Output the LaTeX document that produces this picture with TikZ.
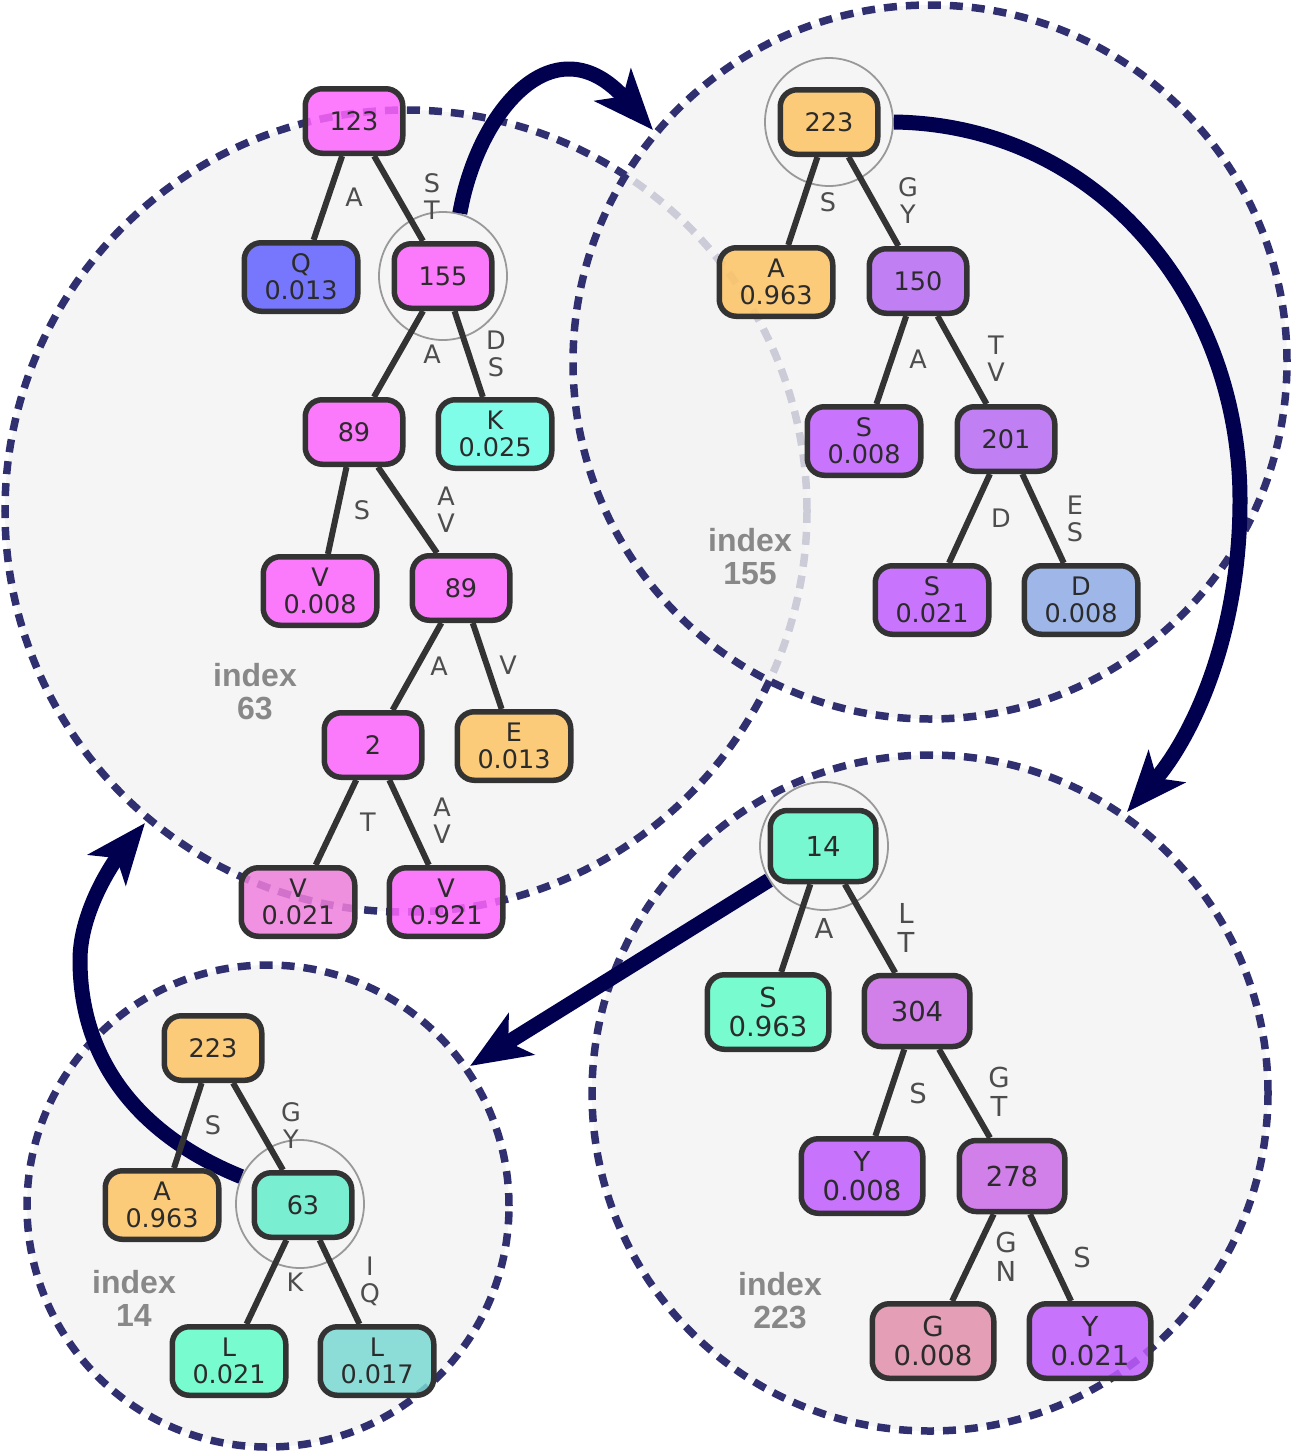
\documentclass[tikz,border=0pt]{standalone}
\usepackage{fontspec}
\setmainfont{DejaVu Sans}
\newfontfamily\idxfamily{Liberation Sans}
\usetikzlibrary{arrows.meta}

% palette
\definecolor{ink}{HTML}{333333}
\definecolor{nodetext}{HTML}{2B2B2B}
\definecolor{labelgray}{HTML}{4D4D4D}
\definecolor{idxgray}{HTML}{888888}
\definecolor{ringgray}{HTML}{999999}
\definecolor{regionblue}{HTML}{303070}
\definecolor{regionfill}{HTML}{F3F3F3}
\definecolor{arrownavy}{HTML}{00004F}
\definecolor{cMag}{HTML}{FD64FD}
\definecolor{cQ}{HTML}{6262FF}
\definecolor{cK}{HTML}{6CFFE6}
\definecolor{cOr}{HTML}{FDC464}
\definecolor{cVlt}{HTML}{EF7EDC}
\definecolor{cPa}{HTML}{B76CF5}
\definecolor{cPb}{HTML}{C05EFF}
\definecolor{cD}{HTML}{91ADE6}
\definecolor{cMint}{HTML}{62F9CA}
\definecolor{cMintb}{HTML}{62FDC8}
\definecolor{cOrch}{HTML}{CA6CE6}
\definecolor{cY}{HTML}{C05CFD}
\definecolor{cPink}{HTML}{E191AD}
\definecolor{cTeal}{HTML}{64EDCA}
\definecolor{cTealb}{HTML}{7AD8D3}

\newcommand{\nodefont}{\fontsize{25.5}{27}\selectfont}
\newcommand{\nodefontL}{\fontsize{27.5}{29}\selectfont}

\begin{document}
\begin{tikzpicture}[x=1pt,y=-1pt,
  region/.style={circle, draw=regionblue, line width=7.5pt,
    dash pattern=on 13pt off 9pt, fill=regionfill, fill opacity=0.8, inner sep=0pt},
  box/.style={draw=ink, line width=5.5pt, rounded corners=17pt,
    fill opacity=0.85, text opacity=1, text=nodetext, align=center,
    inner sep=1pt, font=\nodefont},
  innerbox/.style={box, minimum width=97.5pt, minimum height=64.5pt},
  leafbox/.style={box, minimum width=113.5pt, minimum height=68.5pt},
  innerboxL/.style={box, minimum width=105.5pt, minimum height=71pt, font=\nodefontL},
  leafboxL/.style={box, minimum width=121.5pt, minimum height=74.5pt, font=\nodefontL},
  edge/.style={draw=ink, line width=6pt},
  elabel/.style={text=labelgray, align=center, inner sep=0pt, font=\nodefont},
  elabelL/.style={elabel, font=\nodefontL},
  ring/.style={circle, draw=ringgray, line width=1.8pt, minimum size=128pt, inner sep=0pt},
  jump/.style={draw=arrownavy, line width=15pt,
    -{Stealth[length=60pt, width=48pt, inset=15pt]}},
  idx/.style={text=idxgray, align=center, inner sep=0pt,
    font=\idxfamily\bfseries\fontsize{32}{33}\selectfont}
]
\useasboundingbox (0,0) rectangle (1292,1451);

% index regions
\node[region, minimum size=802pt] (reg63)  at (406,511)  {};
\node[region, minimum size=714pt] (reg155) at (930,362)  {};
\node[region, minimum size=676pt] (reg223) at (930,1093) {};
\node[region, minimum size=482pt] (reg14)  at (268,1206) {};

\node[idx] (lab63)  at (255,692)  {index\\63};
\node[idx] (lab155) at (750,557)  {index\\155};
\node[idx] (lab223) at (780,1301) {index\\223};
\node[idx] (lab14)  at (134,1298) {index\\14};

% rings around the linked nodes
\node[ring] (r155) at (443,276)  {};
\node[ring] (r223) at (829,122)  {};
\node[ring] (r14)  at (824,846)  {};
\node[ring] (r63)  at (300,1204) {};

% jump arrows between regions
\coordinate (t1) at (653,130);
\coordinate (t2) at (1127,812);
\coordinate (t3) at (470,1066);
\coordinate (t4) at (145,823);
\draw[jump] (r155.75) .. controls (478,110) and (555,20) .. (t1);
\draw[jump] (r223.east) .. controls (1100,125) and (1240,300) .. (1240,500)
            .. controls (1240,640) and (1190,740) .. (t2);
\draw[jump] (r14) -- (t3);
\draw[jump] (r63.155) .. controls (150,1140) and (80,1070) .. (80,960)
            .. controls (80,910) and (115,860) .. (t4);

% tree in index 63
\node[innerbox, fill=cMag] (a123) at (354,121) {123};
\node[leafbox,  fill=cQ]   (aQ)   at (301,277) {Q\\0.013};
\node[innerbox, fill=cMag] (a155) at (443,276) {155};
\node[innerbox, fill=cMag] (a89)  at (354,432) {89};
\node[leafbox,  fill=cK]   (aK)   at (495,434) {K\\0.025};
\node[leafbox,  fill=cMag] (aV1)  at (320,591) {V\\0.008};
\node[innerbox, fill=cMag] (a89b) at (461,588) {89};
\node[innerbox, fill=cMag] (a2)   at (373,745) {2};
\node[leafbox,  fill=cOr]  (aE)   at (514,746) {E\\0.013};
\node[leafbox,  fill=cVlt] (aV2)  at (298,902) {V\\0.021};
\node[leafbox,  fill=cMag] (aV3)  at (446,902) {V\\0.921};
\draw[edge] (a123) -- (aQ);
\draw[edge] (a123) -- (a155);
\draw[edge] (a155) -- (a89);
\draw[edge] (a155) -- (aK);
\draw[edge] (a89) -- (aV1);
\draw[edge] (a89) -- (a89b);
\draw[edge] (a89b) -- (a2);
\draw[edge] (a89b) -- (aE);
\draw[edge] (a2) -- (aV2);
\draw[edge] (a2) -- (aV3);
\node[elabel] (la1)  at (354,197) {A};
\node[elabel] (la2)  at (432,197) {S\\T};
\node[elabel] (la3)  at (432,354) {A};
\node[elabel] (la4)  at (496,354) {D\\S};
\node[elabel] (la5)  at (362,510) {S};
\node[elabel] (la6)  at (446,510) {A\\V};
\node[elabel] (la7)  at (439,666) {A};
\node[elabel] (la8)  at (508,665) {V};
\node[elabel] (la9)  at (368,822) {T};
\node[elabel] (la10) at (442,821) {A\\V};

% tree in index 155
\node[innerbox, fill=cOr] (b223) at (829,122)  {223};
\node[leafbox,  fill=cOr] (bA)   at (776,282)  {A\\0.963};
\node[innerbox, fill=cPa] (b150) at (918,281)  {150};
\node[leafbox,  fill=cPb] (bS1)  at (864,441)  {S\\0.008};
\node[innerbox, fill=cPa] (b201) at (1006,439) {201};
\node[leafbox,  fill=cPb] (bS2)  at (932,600)  {S\\0.021};
\node[leafbox,  fill=cD]  (bD)   at (1081,600) {D\\0.008};
\draw[edge] (b223) -- (bA);
\draw[edge] (b223) -- (b150);
\draw[edge] (b150) -- (bS1);
\draw[edge] (b150) -- (b201);
\draw[edge] (b201) -- (bS2);
\draw[edge] (b201) -- (bD);
\node[elabel] (lb1) at (828,202)  {S};
\node[elabel] (lb2) at (908,201)  {G\\Y};
\node[elabel] (lb3) at (918,359)  {A};
\node[elabel] (lb4) at (996,359)  {T\\V};
\node[elabel] (lb5) at (1001,518) {D};
\node[elabel] (lb6) at (1075,519) {E\\S};

% tree in index 223
\node[innerboxL, fill=cMint]  (c14)  at (823,846)   {14};
\node[leafboxL,  fill=cMintb] (cS)   at (768,1012)  {S\\0.963};
\node[innerboxL, fill=cOrch]  (c304) at (917,1011)  {304};
\node[leafboxL,  fill=cY]     (cY1)  at (862,1176)  {Y\\0.008};
\node[innerboxL, fill=cOrch]  (c278) at (1012,1176) {278};
\node[leafboxL,  fill=cPink]  (cG)   at (933,1341)  {G\\0.008};
\node[leafboxL,  fill=cY]     (cY2)  at (1090,1341) {Y\\0.021};
\draw[edge] (c14) -- (cS);
\draw[edge] (c14) -- (c304);
\draw[edge] (c304) -- (cY1);
\draw[edge] (c304) -- (c278);
\draw[edge] (c278) -- (cG);
\draw[edge] (c278) -- (cY2);
\node[elabelL] (lc1) at (824,928)   {A};
\node[elabelL] (lc2) at (906,928)   {L\\T};
\node[elabelL] (lc3) at (918,1093)  {S};
\node[elabelL] (lc4) at (999,1092)  {G\\T};
\node[elabelL] (lc5) at (1006,1257) {G\\N};
\node[elabelL] (lc6) at (1082,1257) {S};

% tree in index 14
\node[innerbox, fill=cOr]    (d223) at (213,1048) {223};
\node[leafbox,  fill=cOr]    (dA)   at (162,1205) {A\\0.963};
\node[innerbox, fill=cTeal]  (d63)  at (303,1205) {63};
\node[leafbox,  fill=cMintb] (dL1)  at (229,1361) {L\\0.021};
\node[leafbox,  fill=cTealb] (dL2)  at (377,1361) {L\\0.017};
\draw[edge] (d223) -- (dA);
\draw[edge] (d223) -- (d63);
\draw[edge] (d63) -- (dL1);
\draw[edge] (d63) -- (dL2);
\node[elabel] (ld1) at (213,1125) {S};
\node[elabel] (ld2) at (291,1126) {G\\Y};
\node[elabel] (ld3) at (295,1282) {K};
\node[elabel] (ld4) at (370,1281) {I\\Q};
\end{tikzpicture}
\end{document}
